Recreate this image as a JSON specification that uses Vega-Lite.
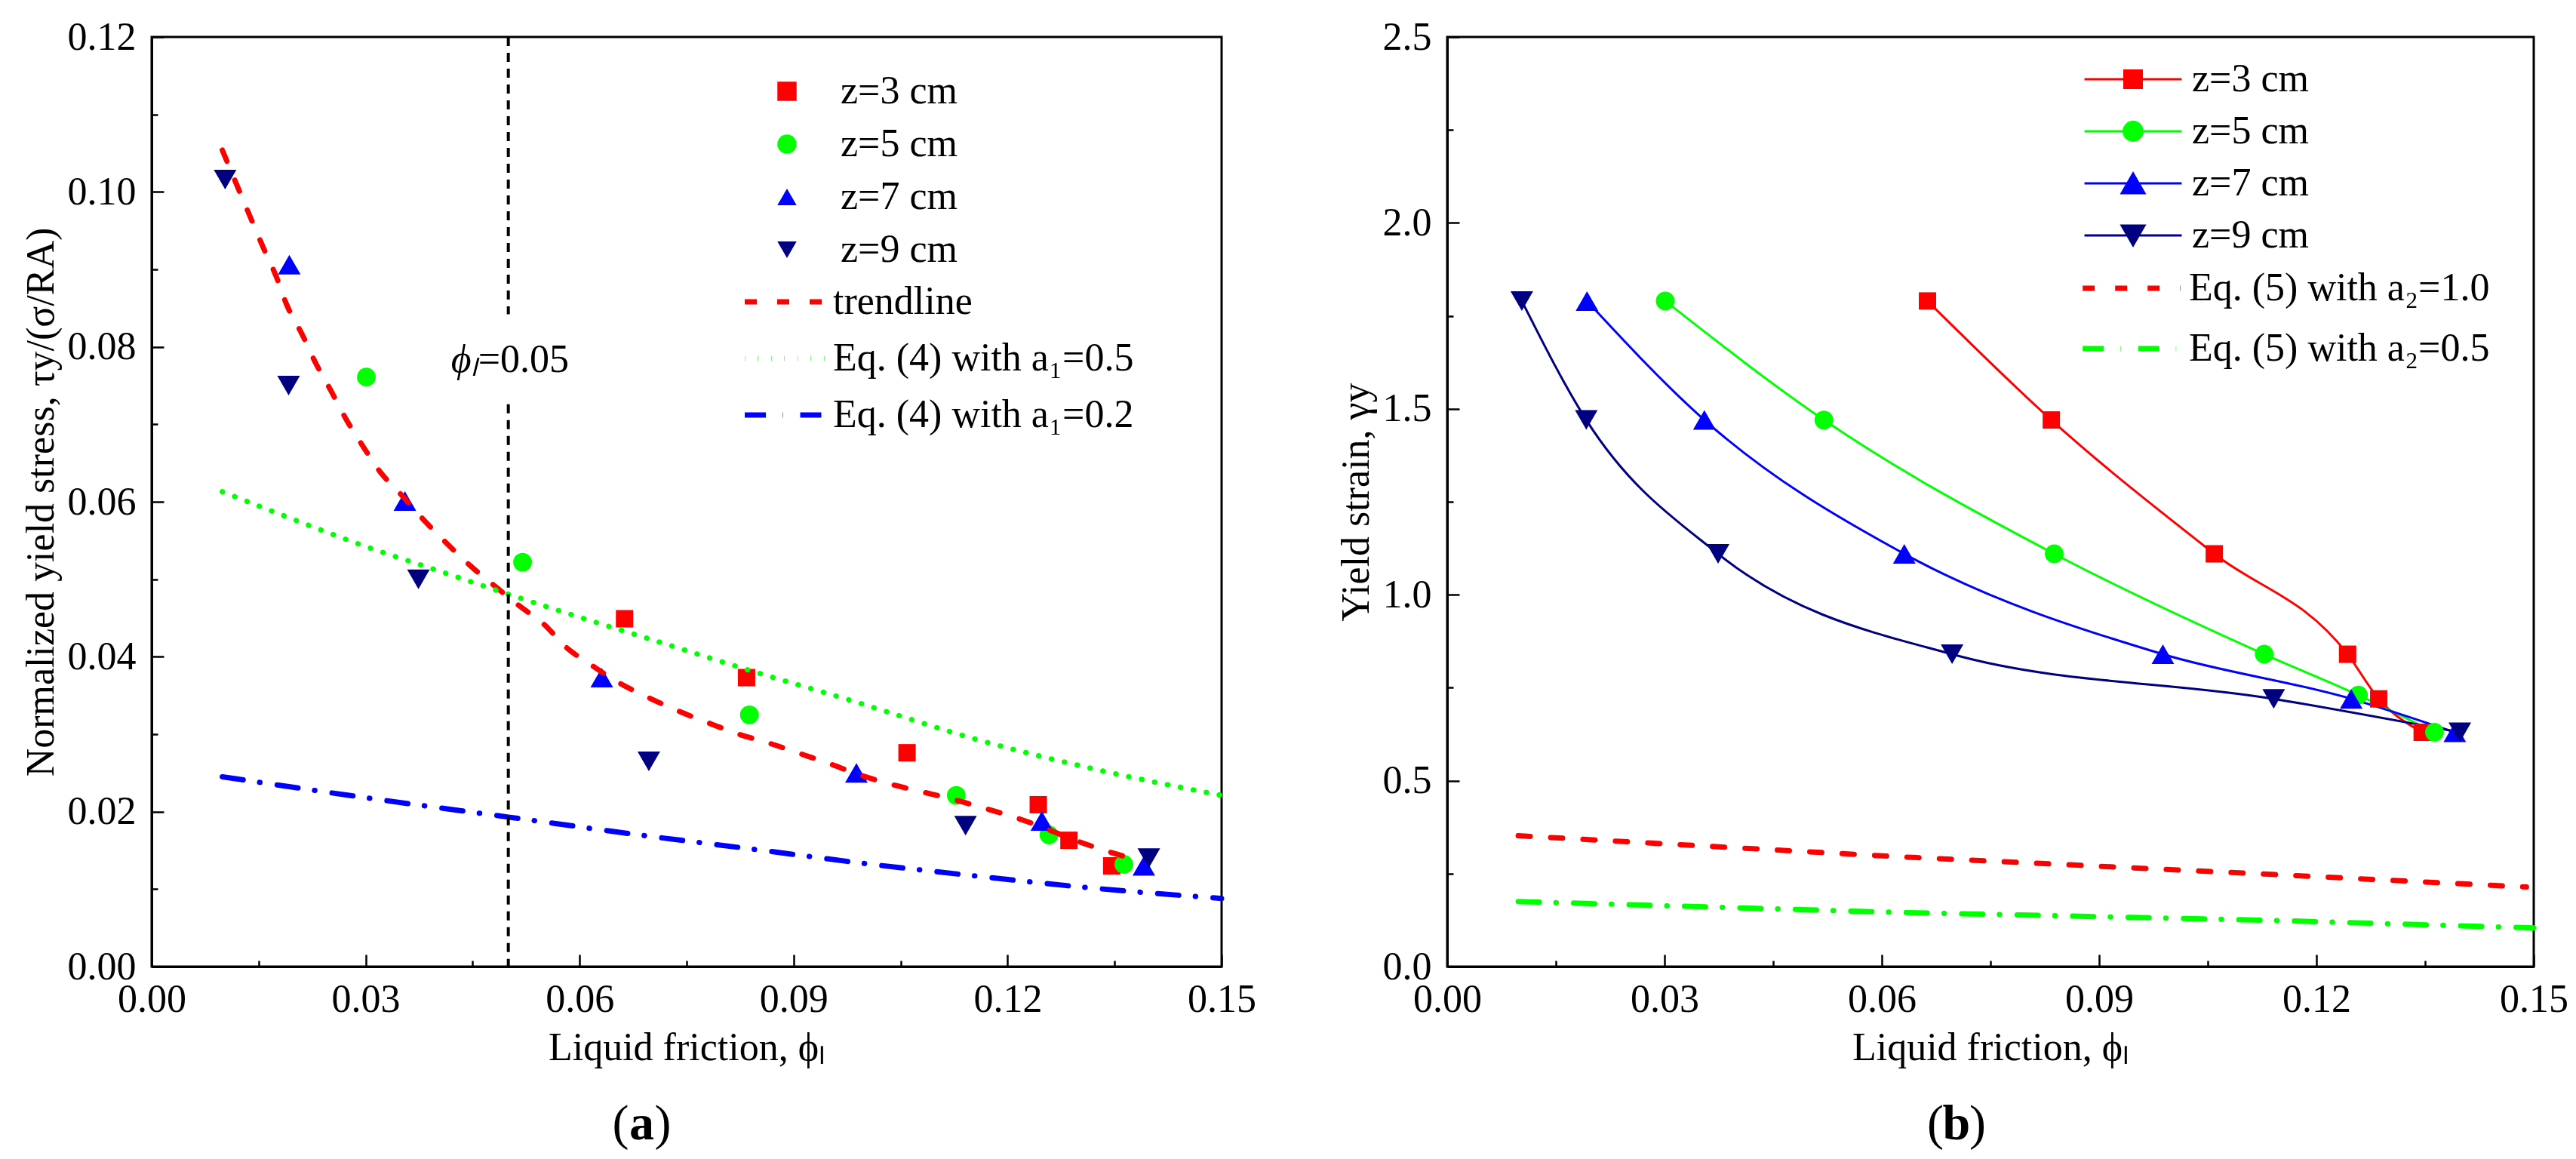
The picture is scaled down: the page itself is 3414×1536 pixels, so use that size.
{
  "$schema": "https://vega.github.io/schema/vega-lite/v6.json",
  "background": "white",
  "padding": {"left": 26, "top": 21, "right": 14, "bottom": 10},
  "bounds": "flush",
  "spacing": 299,
  "resolve": {"scale": {"color": "independent", "shape": "independent", "strokeDash": "independent", "stroke": "independent"}},
  "config": {
    "font": "Liberation Serif",
    "view": {"stroke": "black", "strokeWidth": 3},
    "axis": {
      "grid": false,
      "domainColor": "black",
      "domainWidth": 3,
      "tickColor": "black",
      "tickWidth": 2.5,
      "labelFont": "Liberation Serif",
      "labelFontSize": 52,
      "labelColor": "black",
      "labelOverlap": false,
      "labelFlush": false,
      "titleFont": "Liberation Serif",
      "titleFontSize": 52,
      "titleFontWeight": "normal",
      "titleColor": "black"
    },
    "legend": {
      "labelFont": "Liberation Serif",
      "labelFontSize": 52,
      "labelColor": "black",
      "labelLimit": 2000,
      "padding": 0,
      "direction": "vertical"
    },
    "text": {"font": "Liberation Serif", "color": "black"}
  },
  "datasets": {
    "points": [
      {"z": "z=3 cm", "phi": 0.0663, "tau": 0.0449, "strain": 1.79},
      {"z": "z=3 cm", "phi": 0.0834, "tau": 0.0373, "strain": 1.47},
      {"z": "z=3 cm", "phi": 0.1059, "tau": 0.0276, "strain": 1.11},
      {"z": "z=3 cm", "phi": 0.1243, "tau": 0.0209, "strain": 0.84},
      {"z": "z=3 cm", "phi": 0.1286, "tau": 0.0163, "strain": 0.72},
      {"z": "z=3 cm", "phi": 0.1346, "tau": 0.0130, "strain": 0.63},
      {"z": "z=5 cm", "phi": 0.0301, "tau": 0.0761, "strain": 1.79},
      {"z": "z=5 cm", "phi": 0.0520, "tau": 0.0522, "strain": 1.47},
      {"z": "z=5 cm", "phi": 0.0838, "tau": 0.0325, "strain": 1.11},
      {"z": "z=5 cm", "phi": 0.1128, "tau": 0.0221, "strain": 0.84},
      {"z": "z=5 cm", "phi": 0.1258, "tau": 0.0170, "strain": 0.73},
      {"z": "z=5 cm", "phi": 0.1363, "tau": 0.0132, "strain": 0.63},
      {"z": "z=7 cm", "phi": 0.0193, "tau": 0.0906, "strain": 1.79},
      {"z": "z=7 cm", "phi": 0.0355, "tau": 0.0601, "strain": 1.47},
      {"z": "z=7 cm", "phi": 0.0631, "tau": 0.0373, "strain": 1.11},
      {"z": "z=7 cm", "phi": 0.0988, "tau": 0.0250, "strain": 0.84},
      {"z": "z=7 cm", "phi": 0.1248, "tau": 0.0188, "strain": 0.72},
      {"z": "z=7 cm", "phi": 0.1391, "tau": 0.0130, "strain": 0.63},
      {"z": "z=9 cm", "phi": 0.0103, "tau": 0.1016, "strain": 1.79},
      {"z": "z=9 cm", "phi": 0.0192, "tau": 0.0750, "strain": 1.47},
      {"z": "z=9 cm", "phi": 0.0374, "tau": 0.0500, "strain": 1.11},
      {"z": "z=9 cm", "phi": 0.0697, "tau": 0.0265, "strain": 0.84},
      {"z": "z=9 cm", "phi": 0.1141, "tau": 0.0182, "strain": 0.72},
      {"z": "z=9 cm", "phi": 0.1398, "tau": 0.0140, "strain": 0.63}
    ],
    "curvesA": [
      {"curve": "trendline", "phi": 0.0099, "tau": 0.1054},
      {"curve": "trendline", "phi": 0.0123, "tau": 0.1001},
      {"curve": "trendline", "phi": 0.0139, "tau": 0.0966},
      {"curve": "trendline", "phi": 0.0156, "tau": 0.0929},
      {"curve": "trendline", "phi": 0.0175, "tau": 0.0890},
      {"curve": "trendline", "phi": 0.0189, "tau": 0.0855},
      {"curve": "trendline", "phi": 0.0211, "tau": 0.0816},
      {"curve": "trendline", "phi": 0.0230, "tau": 0.0779},
      {"curve": "trendline", "phi": 0.0251, "tau": 0.0744},
      {"curve": "trendline", "phi": 0.0273, "tau": 0.0706},
      {"curve": "trendline", "phi": 0.0296, "tau": 0.0672},
      {"curve": "trendline", "phi": 0.0320, "tau": 0.0639},
      {"curve": "trendline", "phi": 0.0351, "tau": 0.0608},
      {"curve": "trendline", "phi": 0.0382, "tau": 0.0576},
      {"curve": "trendline", "phi": 0.0413, "tau": 0.0547},
      {"curve": "trendline", "phi": 0.0446, "tau": 0.0518},
      {"curve": "trendline", "phi": 0.0480, "tau": 0.0492},
      {"curve": "trendline", "phi": 0.0515, "tau": 0.0466},
      {"curve": "trendline", "phi": 0.0551, "tau": 0.0441},
      {"curve": "trendline", "phi": 0.0579, "tau": 0.0414},
      {"curve": "trendline", "phi": 0.0620, "tau": 0.0387},
      {"curve": "trendline", "phi": 0.0652, "tau": 0.0368},
      {"curve": "trendline", "phi": 0.0697, "tau": 0.0347},
      {"curve": "trendline", "phi": 0.0741, "tau": 0.0329},
      {"curve": "trendline", "phi": 0.0785, "tau": 0.0313},
      {"curve": "trendline", "phi": 0.0823, "tau": 0.0300},
      {"curve": "trendline", "phi": 0.0867, "tau": 0.0288},
      {"curve": "trendline", "phi": 0.0912, "tau": 0.0274},
      {"curve": "trendline", "phi": 0.0950, "tau": 0.0262},
      {"curve": "trendline", "phi": 0.0994, "tau": 0.0247},
      {"curve": "trendline", "phi": 0.1038, "tau": 0.0235},
      {"curve": "trendline", "phi": 0.1083, "tau": 0.0225},
      {"curve": "trendline", "phi": 0.1127, "tau": 0.0215},
      {"curve": "trendline", "phi": 0.1165, "tau": 0.0205},
      {"curve": "trendline", "phi": 0.1209, "tau": 0.0193},
      {"curve": "trendline", "phi": 0.1254, "tau": 0.0178},
      {"curve": "trendline", "phi": 0.1292, "tau": 0.0164},
      {"curve": "trendline", "phi": 0.1336, "tau": 0.0150},
      {"curve": "trendline", "phi": 0.1380, "tau": 0.0138},
      {"curve": "Eq. (4) with a₁=0.5", "phi": 0.0099, "tau": 0.0613},
      {"curve": "Eq. (4) with a₁=0.5", "phi": 0.0191, "tau": 0.0580},
      {"curve": "Eq. (4) with a₁=0.5", "phi": 0.0301, "tau": 0.0542},
      {"curve": "Eq. (4) with a₁=0.5", "phi": 0.0392, "tau": 0.0514},
      {"curve": "Eq. (4) with a₁=0.5", "phi": 0.0499, "tau": 0.0481},
      {"curve": "Eq. (4) with a₁=0.5", "phi": 0.0600, "tau": 0.0451},
      {"curve": "Eq. (4) with a₁=0.5", "phi": 0.0722, "tau": 0.0416},
      {"curve": "Eq. (4) with a₁=0.5", "phi": 0.0829, "tau": 0.0385},
      {"curve": "Eq. (4) with a₁=0.5", "phi": 0.0975, "tau": 0.0345},
      {"curve": "Eq. (4) with a₁=0.5", "phi": 0.1165, "tau": 0.0291},
      {"curve": "Eq. (4) with a₁=0.5", "phi": 0.1336, "tau": 0.0252},
      {"curve": "Eq. (4) with a₁=0.5", "phi": 0.1500, "tau": 0.0221},
      {"curve": "Eq. (4) with a₁=0.2", "phi": 0.0099, "tau": 0.0245},
      {"curve": "Eq. (4) with a₁=0.2", "phi": 0.0300, "tau": 0.0218},
      {"curve": "Eq. (4) with a₁=0.2", "phi": 0.0500, "tau": 0.0193},
      {"curve": "Eq. (4) with a₁=0.2", "phi": 0.0700, "tau": 0.0168},
      {"curve": "Eq. (4) with a₁=0.2", "phi": 0.0848, "tau": 0.0151},
      {"curve": "Eq. (4) with a₁=0.2", "phi": 0.1000, "tau": 0.0133},
      {"curve": "Eq. (4) with a₁=0.2", "phi": 0.1165, "tau": 0.0116},
      {"curve": "Eq. (4) with a₁=0.2", "phi": 0.1300, "tau": 0.0103},
      {"curve": "Eq. (4) with a₁=0.2", "phi": 0.1500, "tau": 0.0088}
    ],
    "curvesB": [
      {"curve": "Eq. (5) with a₂=1.0", "phi": 0.0098, "strain": 0.352},
      {"curve": "Eq. (5) with a₂=1.0", "phi": 0.0618, "strain": 0.296},
      {"curve": "Eq. (5) with a₂=1.0", "phi": 0.1158, "strain": 0.246},
      {"curve": "Eq. (5) with a₂=1.0", "phi": 0.1490, "strain": 0.214},
      {"curve": "Eq. (5) with a₂=0.5", "phi": 0.0098, "strain": 0.175},
      {"curve": "Eq. (5) with a₂=0.5", "phi": 0.0618, "strain": 0.146},
      {"curve": "Eq. (5) with a₂=0.5", "phi": 0.1145, "strain": 0.124},
      {"curve": "Eq. (5) with a₂=0.5", "phi": 0.1500, "strain": 0.104}
    ]
  },
  "hconcat": [
    {
      "width": 1418,
      "height": 1232,
      "resolve": {"scale": {"color": "independent", "shape": "independent", "strokeDash": "independent"}},
      "layer": [
        {
          "data": {"name": "points"},
          "mark": {
            "type": "point",
            "filled": true,
            "opacity": 1,
            "size": {"expr": "datum.z == 'z=3 cm' ? 530 : (datum.z == 'z=5 cm' ? 620 : 900)"}
          },
          "encoding": {
            "x": {
              "field": "phi",
              "type": "quantitative",
              "scale": {"domain": [0, 0.15], "nice": false, "zero": false},
              "axis": {
                "title": "Liquid friction, ϕₗ",
                "values": [0, 0.015, 0.03, 0.045, 0.06, 0.075, 0.09, 0.105, 0.12, 0.135, 0.15],
                "format": ".2f",
                "labelExpr": "round(datum.value * 1000) % 30 == 0 ? datum.label : ''",
                "tickSize": {"condition": {"test": "round(datum.value * 1000) % 30 == 0", "value": -16}, "value": -8},
                "labelPadding": 34,
                "titlePadding": 5
              }
            },
            "y": {
              "field": "tau",
              "type": "quantitative",
              "scale": {"domain": [0, 0.12], "nice": false, "zero": false},
              "axis": {
                "title": "Normalized yield stress, τy/(σ/RA)",
                "values": [0, 0.01, 0.02, 0.03, 0.04, 0.05, 0.06, 0.07, 0.08, 0.09, 0.1, 0.11, 0.12],
                "format": ".2f",
                "labelExpr": "round(datum.value * 100) % 2 == 0 ? datum.label : ''",
                "tickSize": {"condition": {"test": "round(datum.value * 100) % 2 == 0", "value": -16}, "value": -8},
                "labelPadding": 37,
                "titlePadding": 8
              }
            },
            "color": {
              "field": "z",
              "type": "nominal",
              "scale": {"domain": ["z=3 cm", "z=5 cm", "z=7 cm", "z=9 cm"], "range": ["#FF0000", "#00FF00", "#0000FF", "#000080"]},
              "legend": {
                "title": null,
                "orient": "none",
                "legendX": 816,
                "legendY": 46,
                "labelOffset": 45,
                "rowPadding": 18,
                "symbolSize": 650,
                "symbolStrokeWidth": 0
              }
            },
            "shape": {
              "field": "z",
              "type": "nominal",
              "scale": {"domain": ["z=3 cm", "z=5 cm", "z=7 cm", "z=9 cm"], "range": ["square", "circle", "triangle-up", "triangle-down"]},
              "legend": {
                "title": null,
                "orient": "none",
                "legendX": 816,
                "legendY": 46,
                "labelOffset": 45,
                "rowPadding": 18,
                "symbolSize": 650,
                "symbolStrokeWidth": 0
              }
            }
          }
        },
        {
          "data": {"name": "curvesA"},
          "mark": {"type": "line", "strokeWidth": 7, "strokeCap": "round", "interpolate": "monotone"},
          "encoding": {
            "x": {"field": "phi", "type": "quantitative"},
            "y": {"field": "tau", "type": "quantitative"},
            "color": {
              "field": "curve",
              "type": "nominal",
              "scale": {"domain": ["trendline", "Eq. (4) with a₁=0.5", "Eq. (4) with a₁=0.2"], "range": ["#FF0000", "#00FF00", "#0000FF"]},
              "legend": {
                "title": null,
                "orient": "none",
                "legendX": 814,
                "legendY": 325,
                "labelOffset": 37,
                "rowPadding": 23,
                "symbolType": "M-3,0H3",
                "symbolSize": 1296,
                "symbolStrokeWidth": 7
              }
            },
            "strokeDash": {
              "field": "curve",
              "type": "nominal",
              "scale": {"domain": ["trendline", "Eq. (4) with a₁=0.5", "Eq. (4) with a₁=0.2"], "range": [[16, 27], [0.5, 17], [28, 22, 0.5, 23]]},
              "legend": {
                "title": null,
                "orient": "none",
                "legendX": 814,
                "legendY": 325,
                "labelOffset": 37,
                "rowPadding": 23,
                "symbolType": "M-3,0H3",
                "symbolSize": 1296,
                "symbolStrokeWidth": 7
              }
            }
          }
        },
        {
          "data": {"values": [{}]},
          "mark": {"type": "rule", "color": "black", "strokeWidth": 4, "strokeDash": [12, 9]},
          "encoding": {"x": {"datum": 0.05}, "y": {"datum": 0.12}, "y2": {"datum": 0.0842}}
        },
        {
          "data": {"values": [{}]},
          "mark": {"type": "rule", "color": "black", "strokeWidth": 4, "strokeDash": [12, 9]},
          "encoding": {"x": {"datum": 0.05}, "y": {"datum": 0.0726}, "y2": {"datum": 0}}
        },
        {
          "data": {"values": [{}]},
          "mark": {"type": "text", "text": "ϕₗ", "fontStyle": "italic", "fontSize": 52, "align": "right", "baseline": "alphabetic", "dx": -40},
          "encoding": {"x": {"datum": 0.05}, "y": {"datum": 0.0768}}
        },
        {
          "data": {"values": [{}]},
          "mark": {"type": "text", "text": "=0.05", "fontSize": 52, "align": "left", "baseline": "alphabetic", "dx": -40},
          "encoding": {"x": {"datum": 0.05}, "y": {"datum": 0.0768}}
        },
        {
          "data": {"values": [{}]},
          "mark": {"type": "text", "text": "(", "fontSize": 66, "align": "right", "baseline": "alphabetic", "dx": -17},
          "encoding": {"x": {"datum": 0.0687}, "y": {"datum": -0.0223}}
        },
        {
          "data": {"values": [{}]},
          "mark": {"type": "text", "text": "a", "fontSize": 66, "fontWeight": "bold", "align": "center", "baseline": "alphabetic"},
          "encoding": {"x": {"datum": 0.0687}, "y": {"datum": -0.0223}}
        },
        {
          "data": {"values": [{}]},
          "mark": {"type": "text", "text": ")", "fontSize": 66, "align": "left", "baseline": "alphabetic", "dx": 17},
          "encoding": {"x": {"datum": 0.0687}, "y": {"datum": -0.0223}}
        }
      ]
    },
    {
      "width": 1440,
      "height": 1232,
      "resolve": {"scale": {"color": "independent", "shape": "independent", "strokeDash": "independent", "stroke": "independent"}},
      "layer": [
        {
          "data": {"name": "curvesB"},
          "mark": {"type": "line", "strokeWidth": 7, "strokeCap": "round"},
          "encoding": {
            "x": {
              "field": "phi",
              "type": "quantitative",
              "scale": {"domain": [0, 0.15], "nice": false, "zero": false},
              "axis": {
                "title": "Liquid friction, ϕₗ",
                "values": [0, 0.015, 0.03, 0.045, 0.06, 0.075, 0.09, 0.105, 0.12, 0.135, 0.15],
                "format": ".2f",
                "labelExpr": "round(datum.value * 1000) % 30 == 0 ? datum.label : ''",
                "tickSize": {"condition": {"test": "round(datum.value * 1000) % 30 == 0", "value": -16}, "value": -8},
                "labelPadding": 34,
                "titlePadding": 5
              }
            },
            "y": {
              "field": "strain",
              "type": "quantitative",
              "scale": {"domain": [0, 2.5], "nice": false, "zero": false},
              "axis": {
                "title": "Yield strain, γy",
                "values": [0, 0.25, 0.5, 0.75, 1, 1.25, 1.5, 1.75, 2, 2.25, 2.5],
                "format": ".1f",
                "labelExpr": "round(datum.value * 100) % 50 == 0 ? datum.label : ''",
                "tickSize": {"condition": {"test": "round(datum.value * 100) % 50 == 0", "value": -16}, "value": -8},
                "labelPadding": 37,
                "titlePadding": 8
              }
            },
            "color": {
              "field": "curve",
              "type": "nominal",
              "scale": {"domain": ["Eq. (5) with a₂=1.0", "Eq. (5) with a₂=0.5"], "range": ["#FF0000", "#00FF00"]},
              "legend": {
                "title": null,
                "orient": "none",
                "legendX": 881,
                "legendY": 307,
                "labelOffset": 50,
                "rowPadding": 28,
                "symbolType": "M-3.6,0H3.6",
                "symbolSize": 1296,
                "symbolStrokeWidth": 7
              }
            },
            "strokeDash": {
              "field": "curve",
              "type": "nominal",
              "scale": {"domain": ["Eq. (5) with a₂=1.0", "Eq. (5) with a₂=0.5"], "range": [[16, 27], [28, 22, 0.5, 23]]},
              "legend": {
                "title": null,
                "orient": "none",
                "legendX": 881,
                "legendY": 307,
                "labelOffset": 50,
                "rowPadding": 28,
                "symbolType": "M-3.6,0H3.6",
                "symbolSize": 1296,
                "symbolStrokeWidth": 7
              }
            }
          }
        },
        {
          "data": {"name": "points"},
          "mark": {"type": "line", "strokeWidth": 3, "interpolate": "monotone"},
          "encoding": {
            "x": {"field": "phi", "type": "quantitative"},
            "y": {"field": "strain", "type": "quantitative"},
            "color": {
              "field": "z",
              "type": "nominal",
              "scale": {"domain": ["z=3 cm", "z=5 cm", "z=7 cm", "z=9 cm"], "range": ["#FF0000", "#00FF00", "#0000FF", "#000080"]},
              "legend": null
            }
          }
        },
        {
          "data": {"name": "points"},
          "mark": {
            "type": "point",
            "filled": true,
            "opacity": 1,
            "size": {"expr": "datum.z == 'z=3 cm' ? 530 : (datum.z == 'z=5 cm' ? 620 : 900)"}
          },
          "encoding": {
            "x": {"field": "phi", "type": "quantitative"},
            "y": {"field": "strain", "type": "quantitative"},
            "color": {
              "field": "z",
              "type": "nominal",
              "scale": {"domain": ["z=3 cm", "z=5 cm", "z=7 cm", "z=9 cm"], "range": ["#FF0000", "#00FF00", "#0000FF", "#000080"]},
              "legend": null
            },
            "shape": {
              "field": "z",
              "type": "nominal",
              "scale": {"domain": ["z=3 cm", "z=5 cm", "z=7 cm", "z=9 cm"], "range": ["square", "circle", "triangle-up", "triangle-down"]},
              "legend": null
            }
          }
        },
        {
          "data": {"name": "points"},
          "mark": {"type": "point", "filled": true, "opacity": 0},
          "encoding": {
            "x": {"field": "phi", "type": "quantitative"},
            "y": {"field": "strain", "type": "quantitative"},
            "color": {
              "field": "z",
              "type": "nominal",
              "scale": {"domain": ["z=3 cm", "z=5 cm", "z=7 cm", "z=9 cm"], "range": ["#FF0000", "#00FF00", "#0000FF", "#000080"]},
              "legend": {
                "title": null,
                "orient": "none",
                "legendX": 883,
                "legendY": 30,
                "labelOffset": 52,
                "rowPadding": 17,
                "symbolSize": 1296,
                "symbolStrokeWidth": 3,
                "symbolOpacity": 1
              }
            },
            "stroke": {
              "field": "z",
              "type": "nominal",
              "scale": {"domain": ["z=3 cm", "z=5 cm", "z=7 cm", "z=9 cm"], "range": ["#FF0000", "#00FF00", "#0000FF", "#000080"]},
              "legend": {
                "title": null,
                "orient": "none",
                "legendX": 883,
                "legendY": 30,
                "labelOffset": 52,
                "rowPadding": 17,
                "symbolSize": 1296,
                "symbolStrokeWidth": 3,
                "symbolOpacity": 1
              }
            },
            "shape": {
              "field": "z",
              "type": "nominal",
              "scale": {
                "domain": ["z=3 cm", "z=5 cm", "z=7 cm", "z=9 cm"],
                "range": [
                  "M-3.58,0H3.58M-0.64,-0.64H0.64V0.64H-0.64Z",
                  "M-3.58,0H3.58M0.69,0A0.69,0.69,0,1,1,-0.69,0A0.69,0.69,0,1,1,0.69,0Z",
                  "M-3.58,0H3.58M0,-0.72L0.83,0.72L-0.83,0.72Z",
                  "M-3.58,0H3.58M0,0.72L0.83,-0.72L-0.83,-0.72Z"
                ]
              },
              "legend": {
                "title": null,
                "orient": "none",
                "legendX": 883,
                "legendY": 30,
                "labelOffset": 52,
                "rowPadding": 17,
                "symbolSize": 1296,
                "symbolStrokeWidth": 3,
                "symbolOpacity": 1
              }
            }
          }
        },
        {
          "data": {"values": [{}]},
          "mark": {"type": "text", "text": "(", "fontSize": 66, "align": "right", "baseline": "alphabetic", "dx": -17},
          "encoding": {"x": {"datum": 0.0703}, "y": {"datum": -0.4647}}
        },
        {
          "data": {"values": [{}]},
          "mark": {"type": "text", "text": "b", "fontSize": 66, "fontWeight": "bold", "align": "center", "baseline": "alphabetic"},
          "encoding": {"x": {"datum": 0.0703}, "y": {"datum": -0.4647}}
        },
        {
          "data": {"values": [{}]},
          "mark": {"type": "text", "text": ")", "fontSize": 66, "align": "left", "baseline": "alphabetic", "dx": 17},
          "encoding": {"x": {"datum": 0.0703}, "y": {"datum": -0.4647}}
        }
      ]
    }
  ]
}
